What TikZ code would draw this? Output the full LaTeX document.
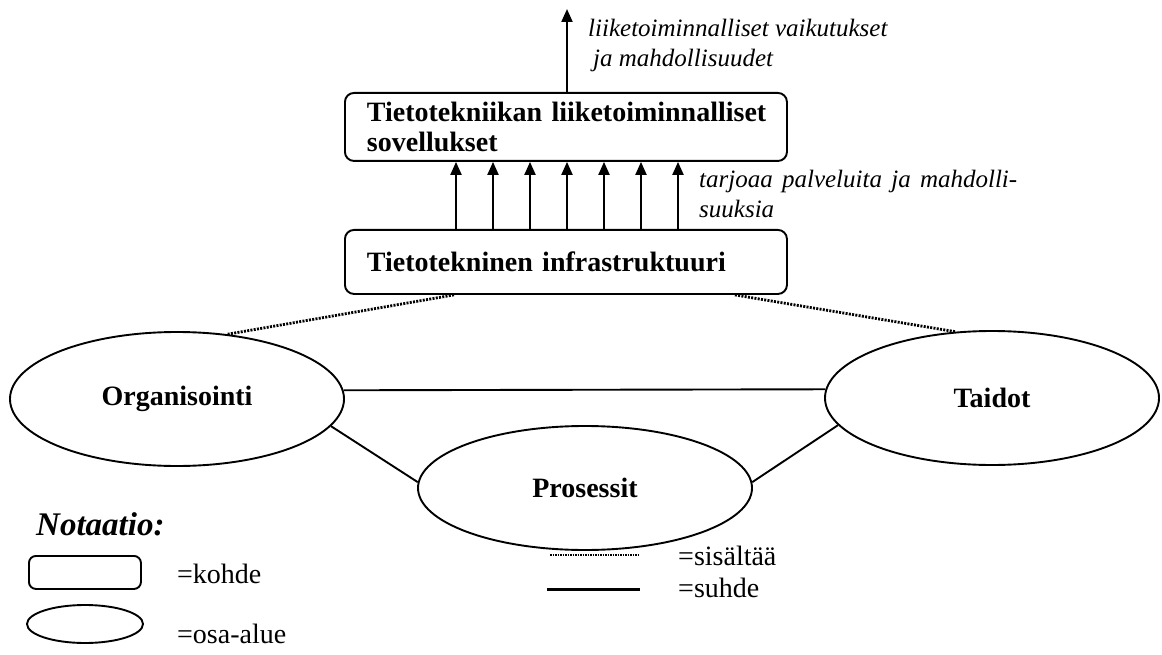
\documentclass[tikz,border=0pt]{standalone}
\usepackage{fontspec}
\setmainfont{Liberation Serif}
\usetikzlibrary{arrows.meta,shapes.geometric}
\begin{document}
\begin{tikzpicture}[x=1pt,y=-1pt,
  kohde/.style={draw, rounded corners=9pt, line width=1.9pt,
    minimum width=442pt, inner xsep=22pt, text width=398pt, align=left,
    font=\bfseries\fontsize{28}{30}\selectfont},
  osa/.style={draw, ellipse, line width=1.9pt, minimum width=334pt,
    minimum height=134pt, inner sep=0pt,
    font=\bfseries\fontsize{28}{30}\selectfont},
  suhde/.style={line width=1.9pt},
  sisaltaa/.style={line width=2.8pt, dash pattern=on 2pt off 1.3pt},
  tarjoaa/.style={-{Triangle[length=13pt,width=11pt]}, line width=2.1pt},
  selite/.style={inner sep=0pt, align=left, font=\itshape\fontsize{25}{30}\selectfont},
  merkki/.style={inner sep=0pt, anchor=base west, font=\fontsize{28}{30}\selectfont},
]
\useasboundingbox (0,0) rectangle (1162,655);

% the two IT objects
\node[kohde, minimum height=68pt, anchor=north west] (apps) at (344,92)
  {\mbox{Tietotekniikan liiketoiminnalliset}\\sovellukset};
\node[kohde, minimum height=64pt, anchor=north west] (infra) at (344,229)
  {Tietotekninen infrastruktuuri};

% services offered by the infrastructure
\foreach \i in {0,...,6}
  \draw[tarjoaa] ([xshift={112pt+37pt*\i}]infra.north west)
                 -- ([xshift={112pt+37pt*\i}]apps.south west);
\node[selite, anchor=base west] (palvelut) at (699,218)
  {\hbox to 318pt{tarjoaa \hfill palveluita \hfill ja \hfill mahdolli-}\\suuksia};

% business effects
\coordinate (vaikutus) at (567,9);
\draw[tarjoaa] ([xshift=223pt]apps.north west) -- (vaikutus);
\node[selite, anchor=base west] (vaikutukset) at (588,67)
  {liiketoiminnalliset vaikutukset\\\hspace*{5pt}ja mahdollisuudet};

% sub-areas
\node[osa] (org) at (177,399) {Organisointi};
\node[osa] (tai) at (992,398) {Taidot};
\node[osa, minimum height=124pt] (pro) at (585,488) {Prosessit};

\draw[suhde] (org.3) -- (tai.177);
\draw[suhde] (org.-10) -- (pro.178);
\draw[suhde] (pro.2) -- (tai.190.6);

\draw[sisaltaa] ([xshift=110pt]infra.south west) -- (org.52);
\draw[sisaltaa] ([xshift=-53pt]infra.south east) -- (tai.119);

% notation
\node[inner sep=0pt, anchor=base west, font=\bfseries\itshape\fontsize{33}{36}\selectfont]
  (notaatio) at (36,535) {Notaatio:};

\node[draw, rounded corners=7pt, line width=1.9pt, minimum width=112pt,
  minimum height=33pt, anchor=north west] (lkohde) at (28,555) {};
\node[merkki] (tkohde) at (177,583) {=kohde};

\node[draw, ellipse, line width=1.9pt, minimum width=116pt, minimum height=38pt,
  inner sep=0pt] (losa) at (85,624) {};
\node[merkki] (tosa) at (177,643) {=osa-alue};

\coordinate (s1) at (550,555);
\coordinate (s2) at (640,555);
\draw[line width=1.8pt, dash pattern=on 1.5pt off 1pt] (s1) -- (s2);
\node[merkki] (tsis) at (678,565) {=sisältää};

\coordinate (u1) at (547,589);
\coordinate (u2) at (640,589);
\draw[line width=3pt] (u1) -- (u2);
\node[merkki] (tsuh) at (678,597) {=suhde};
\end{tikzpicture}
\end{document}
